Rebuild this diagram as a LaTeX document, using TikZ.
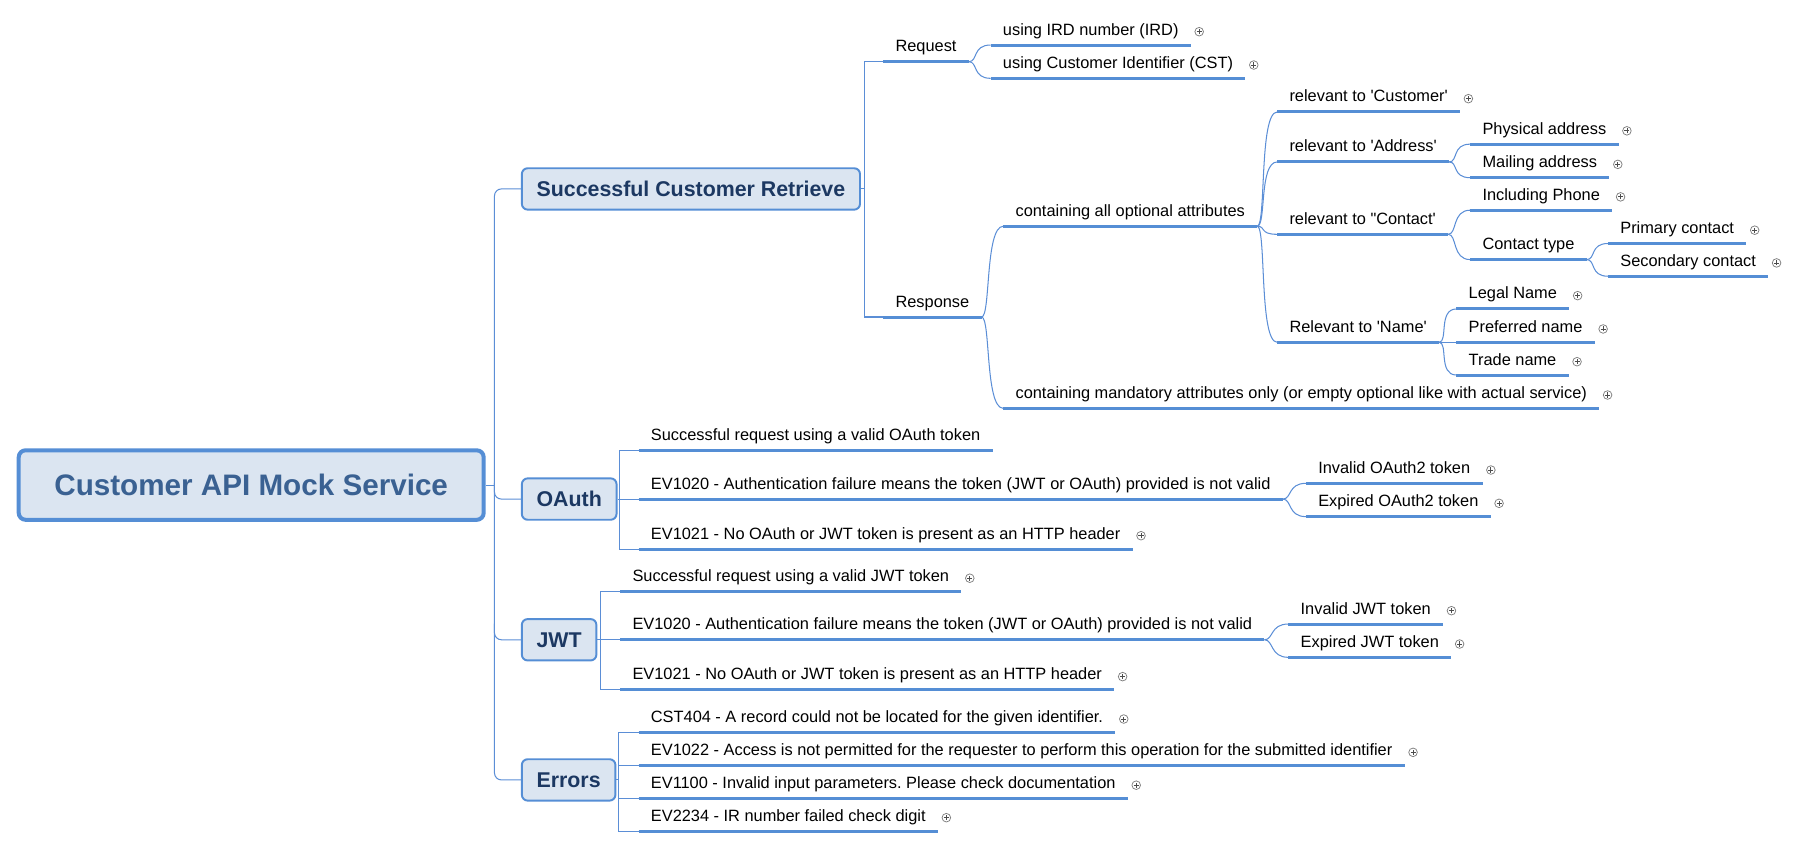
\documentclass[tikz,border=0pt]{standalone}
\usepackage{fontspec}
\newfontfamily\lsans{Liberation Sans}
\usetikzlibrary{calc}
\definecolor{boxfill}{HTML}{DBE5F1}
\definecolor{boxline}{HTML}{558ED5}
\definecolor{conncol}{HTML}{5B8ED6}
\definecolor{topictext}{HTML}{1C3862}
\definecolor{roottext}{HTML}{3A6192}
\definecolor{iconcol}{HTML}{7F7F7F}
\tikzset{
  leaf/.style={anchor=south west, inner xsep=10.5pt, inner ysep=5pt, text height=10.5pt, text depth=3.5pt,
    font=\lsans\fontsize{14.25}{17}\selectfont\frenchspacing, text=black},
  uline/.style={draw=boxline, line width=2.6pt},
  conn/.style={draw=conncol, line width=0.9pt},
  curvy/.style={to path={.. controls +(8,0) and +(-16,0) .. (\tikztotarget)}},
  topic/.style={draw=boxline, fill=boxfill, line width=1.7pt, rounded corners=5pt, anchor=west,
    inner xsep=12.8pt, inner ysep=0pt, minimum height=36pt,
    font=\lsans\bfseries\fontsize{18.6}{22}\selectfont, text=topictext},
  rootbox/.style={draw=boxline, fill=boxfill, line width=3.5pt, rounded corners=6pt,
    minimum width=404.8pt, minimum height=60.5pt, inner sep=0pt,
    font=\lsans\bfseries\fontsize{25.8}{30}\selectfont, text=roottext},
  plusicon/.style={circle, draw=iconcol, fill=white, line width=0.65pt, minimum size=7.5pt, inner sep=0pt,
    path picture={\draw[line width=0.7pt, draw=black!70]
      ([xshift=-2.2pt]path picture bounding box.center) -- ([xshift=2.2pt]path picture bounding box.center)
      ([yshift=-2.2pt]path picture bounding box.center) -- ([yshift=2.2pt]path picture bounding box.center);}},
}
\newcommand{\leafnode}[4]{\node[leaf] (#1) at (#2,#3) {#4};
  \draw[uline] (#1.south west) -- (#1.south east);}
\newcommand{\leafplus}[4]{\leafnode{#1}{#2}{#3}{#4}
  \node[plusicon] (#1-p) at ($(#1.south east)+(7.3,-11.6)$) {};}
\begin{document}
\begin{tikzpicture}[x=1pt, y=-1pt]
\useasboundingbox (0,0) rectangle (1568,738.3);
% root and topics
\node[rootbox] (root) at (218.7,422.3) {Customer API Mock Service};
\node[topic] (scr) at (453.5,164.5) {Successful Customer Retrieve};
\node[topic] (oauth) at (453.5,434.5) {OAuth};
\node[topic] (jwt) at (453.5,557) {JWT};
\node[topic] (errors) at (453.5,679) {Errors};
% trunk
\coordinate (tk) at (430.5,422.3);
\draw[conn] (root.east) -- (tk);
\draw[conn, rounded corners=6pt] (scr.west) -- (scr.west -| tk) -- (errors.west -| tk) -- (errors.west);
\draw[conn, rounded corners=6pt] ($(oauth.west -| tk)+(0,-14)$) -- (oauth.west -| tk) -- (oauth.west);
\draw[conn, rounded corners=6pt] ($(jwt.west -| tk)+(0,-14)$) -- (jwt.west -| tk) -- (jwt.west);
% Successful Customer Retrieve
\leafnode{req}{769}{53.7}{Request}
\leafnode{resp}{769}{276}{Response}
\coordinate (sv) at (752.5,164.5);
\draw[conn] (scr.east) -- (sv);
\draw[conn] (req.south west) -- (req.south west -| sv) -- (resp.south west -| sv) -- (resp.south west);
\leafplus{ird}{862.5}{39.2}{using IRD number (IRD)}
\leafplus{cst}{862.5}{68.2}{using Customer Identifier (CST)}
\draw[conn] (req.south east) to[curvy] (ird.south west);
\draw[conn] (req.south east) to[curvy] (cst.south west);
\leafnode{optall}{873.5}{197}{containing all optional attributes}
\leafplus{mand}{873.5}{355.5}{containing mandatory attributes only (or empty optional like with actual service)}
\draw[conn] (resp.south east) to[curvy] (optall.south west);
\draw[conn] (resp.south east) to[curvy] (mand.south west);
\leafplus{rcust}{1112}{97.5}{relevant to 'Customer'}
\leafnode{raddr}{1112}{141}{relevant to 'Address'}
\leafnode{rcont}{1112}{204}{relevant to "Contact'}
\leafnode{rname}{1112}{298}{Relevant to 'Name'}
\foreach \c in {rcust,raddr,rcont,rname}{\draw[conn] (optall.south east) to[curvy] (\c.south west);}
\leafplus{phys}{1280}{125.5}{Physical address}
\leafplus{mail}{1280}{154.7}{Mailing address}
\draw[conn] (raddr.south east) to[curvy] (phys.south west);
\draw[conn] (raddr.south east) to[curvy] (mail.south west);
\leafplus{phone}{1280}{183}{Including Phone}
\leafnode{ctype}{1280}{226}{Contact type}
\draw[conn] (rcont.south east) to[curvy] (phone.south west);
\draw[conn] (rcont.south east) to[curvy] (ctype.south west);
\leafplus{prim}{1400}{212}{Primary contact}
\leafplus{sec}{1400}{240.5}{Secondary contact}
\draw[conn] (ctype.south east) to[curvy] (prim.south west);
\draw[conn] (ctype.south east) to[curvy] (sec.south west);
\leafplus{legal}{1268}{269}{Legal Name}
\leafplus{pref}{1268}{298}{Preferred name}
\leafplus{trade}{1268}{326.5}{Trade name}
\foreach \c in {legal,pref,trade}{\draw[conn] (rname.south east) to[curvy] (\c.south west);}
% OAuth
\leafnode{o1}{556}{391.8}{Successful request using a valid OAuth token}
\leafnode{o2}{556}{434.5}{EV1020 - Authentication failure means the token (JWT or OAuth) provided is not valid}
\leafplus{o3}{556}{478}{EV1021 - No OAuth or JWT token is present as an HTTP header}
\draw[conn] (o1.south west) -- ++(-16.5,0) |- (o3.south west);
\draw[conn] (oauth.east) -- (o2.south west);
\leafplus{o2a}{1137}{420.8}{Invalid OAuth2 token}
\leafplus{o2b}{1137}{449.8}{Expired OAuth2 token}
\draw[conn] (o2.south east) to[curvy] (o2a.south west);
\draw[conn] (o2.south east) to[curvy] (o2b.south west);
% JWT
\leafplus{j1}{540}{515}{Successful request using a valid JWT token}
\leafnode{j2}{540}{557}{EV1020 - Authentication failure means the token (JWT or OAuth) provided is not valid}
\leafplus{j3}{540}{600.7}{EV1021 - No OAuth or JWT token is present as an HTTP header}
\draw[conn] (j1.south west) -- ++(-17,0) |- (j3.south west);
\draw[conn] (jwt.east) -- (j2.south west);
\leafplus{j2a}{1121.7}{543.3}{Invalid JWT token}
\leafplus{j2b}{1121.7}{572.3}{Expired JWT token}
\draw[conn] (j2.south east) to[curvy] (j2a.south west);
\draw[conn] (j2.south east) to[curvy] (j2b.south west);
% Errors
\leafplus{e1}{556}{637.6}{CST404 - A record could not be located for the given identifier.}
\leafplus{e2}{556}{666.6}{EV1022 - Access is not permitted for the requester to perform this operation for the submitted identifier}
\leafplus{e3}{556}{695.2}{EV1100 - Invalid input parameters. Please check documentation}
\leafplus{e4}{556}{723.5}{EV2234 - IR number failed check digit}
\coordinate (ev) at (538.3,679);
\draw[conn] (errors.east) -- (ev);
\draw[conn] (e1.south west) -- (e1.south west -| ev) -- (e4.south west -| ev) -- (e4.south west);
\draw[conn] (e2.south west -| ev) -- (e2.south west);
\draw[conn] (e3.south west -| ev) -- (e3.south west);
\end{tikzpicture}
\end{document}
